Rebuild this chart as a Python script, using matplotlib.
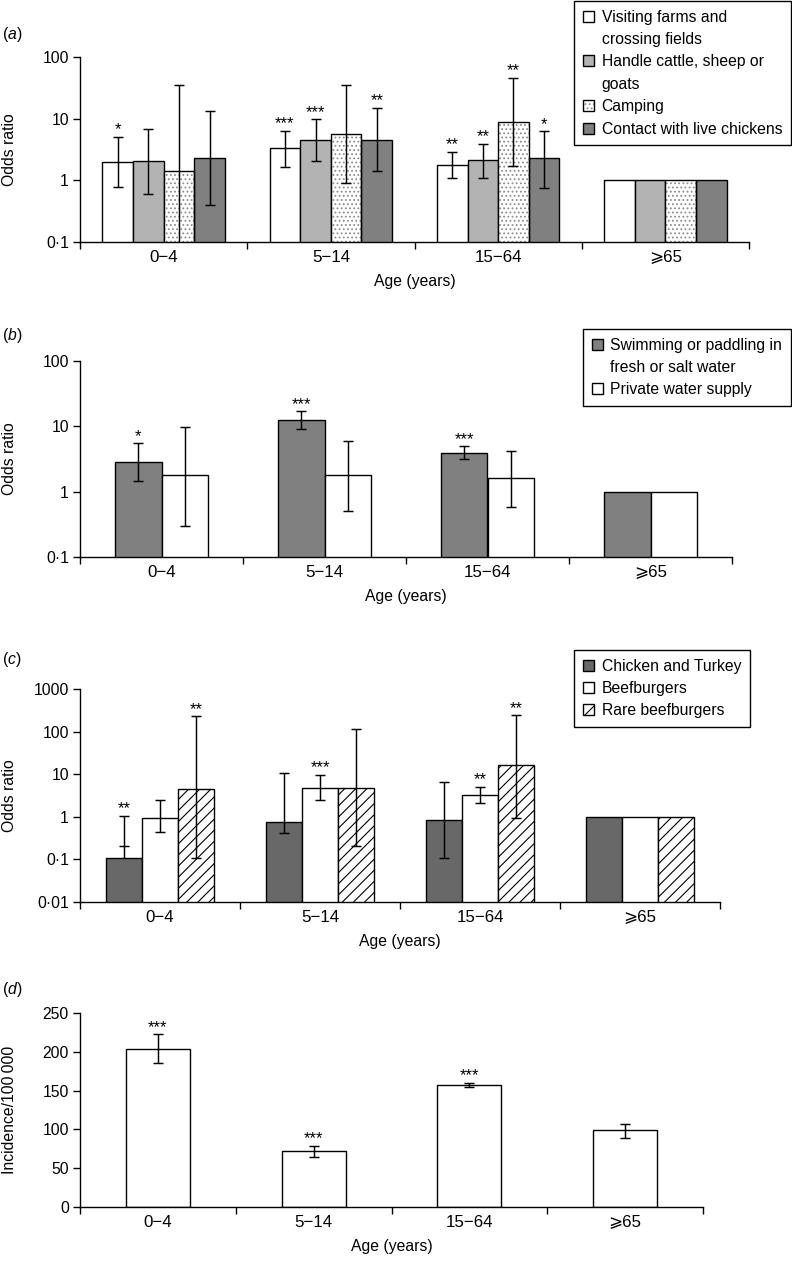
import numpy as np
import matplotlib
matplotlib.use("Agg")
import matplotlib.pyplot as plt
from matplotlib.patches import Patch
from matplotlib.ticker import NullLocator, FixedLocator

plt.rcParams['font.family'] = ['Liberation Sans', 'DejaVu Sans']
plt.rcParams['mathtext.fontset'] = 'custom'
plt.rcParams['mathtext.rm'] = 'Liberation Sans'
plt.rcParams['mathtext.it'] = 'Liberation Sans:italic'
plt.rcParams['hatch.linewidth'] = 0.8

FS = 11.3
XFS = 12.2
nan = np.nan

# ---------------- data ----------------
ages = ['0\u22124', '5\u221214', '15\u221264', '\u2a7e65']

# panel (a)
a_names = ['Visiting farms and\ncrossing fields', 'Handle cattle, sheep or\ngoats',
           'Camping', 'Contact with live chickens']
a_visit = [1.99, 3.39, 1.77, 1.0]
a_visit_lo = [0.78, 1.63, 1.10, nan]
a_visit_hi = [5.1, 6.4, 2.92, nan]
a_handle = [2.09, 4.46, 2.11, 1.0]
a_handle_lo = [0.61, 2.09, 1.10, nan]
a_handle_hi = [6.7, 9.9, 3.94, nan]
a_camp = [1.44, 5.66, 8.75, 1.0]
a_camp_lo = [0.05, 0.91, 1.71, nan]
a_camp_hi = [34.9, 34.9, 45.9, nan]
a_chick = [2.31, 4.58, 2.31, 1.0]
a_chick_lo = [0.40, 1.44, 0.76, nan]
a_chick_hi = [13.4, 15.1, 6.3, nan]
a_stars = [['*', '***', '**', ''], ['', '***', '**', ''], ['', '', '**', ''], ['', '**', '*', '']]

# panel (b)
b_names = ['Swimming or paddling in\nfresh or salt water', 'Private water supply']
b_swim = [2.81, 12.4, 3.85, 1.0]
b_swim_lo = [1.44, 9.2, 3.19, nan]
b_swim_hi = [5.5, 17.1, 4.93, nan]
b_priv = [1.82, 1.82, 1.6, 1.0]
b_priv_lo = [0.30, 0.51, 0.58, nan]
b_priv_hi = [9.8, 5.9, 4.19, nan]
b_stars = [['*', '***', '***', ''], ['', '', '', '']]

# panel (c)
c_names = ['Chicken and Turkey', 'Beefburgers', 'Rare beefburgers']
c_chick = [0.109, 0.74, 0.82, 1.0]
c_chick_lo = [0.21, 0.42, 0.107, nan]
c_chick_hi = [1.06, 10.9, 6.7, nan]
c_beef = [0.92, 4.84, 3.25, 1.0]
c_beef_lo = [0.43, 2.48, 2.1, nan]
c_beef_hi = [2.48, 9.8, 5.1, nan]
c_rare = [4.42, 4.75, 16.2, 1.0]
c_rare_lo = [0.105, 0.21, 0.92, nan]
c_rare_hi = [228, 114, 240, nan]
c_stars = [['**', '', '', ''], ['', '***', '**', ''], ['**', '', '**', '']]

# panel (d)
d_inc = [204, 72, 157, 99.7]
d_inc_lo = [186, 64, 154, 89]
d_inc_hi = [223, 79, 160, 107]
d_stars = ['***', '***', '***', '']

# ---------------- figure ----------------
W, H = 792, 1264
fig = plt.figure(figsize=(W / 100, H / 100), dpi=100)


def add_axes(left, right, top, bottom):
    return fig.add_axes([left / W, 1 - bottom / H, (right - left) / W, (bottom - top) / H])


def style(ax, ylabel):
    for s in ['top', 'right']:
        ax.spines[s].set_visible(False)
    for s in ['left', 'bottom']:
        ax.spines[s].set_linewidth(1.0)
    ax.set_xlim(-0.5, len(ages) - 0.5)
    ax.xaxis.set_major_locator(FixedLocator(np.arange(len(ages) + 1) - 0.5))
    ax.set_xticklabels([''] * (len(ages) + 1))
    ax.set_xticks(np.arange(len(ages)), minor=True)
    ax.set_xticklabels(ages, minor=True, fontsize=XFS)
    ax.tick_params(axis='x', which='major', length=5, width=1.0, direction='out')
    ax.tick_params(axis='x', which='minor', length=0, pad=5.5)
    ax.tick_params(axis='y', which='major', length=5, width=1.0, labelsize=FS, pad=3)
    ax.set_xlabel('Age (years)', fontsize=FS, labelpad=7)
    ax.set_ylabel(ylabel, fontsize=FS)
    pos = ax.get_position()
    ax.yaxis.set_label_coords((17 / W - pos.x0) / pos.width, 0.5)


def bars(ax, x, vals, w, color, hatch=None, hatch_color='k'):
    if hatch is None:
        ax.bar(x, vals, w, color=color, edgecolor='k', linewidth=1.0, zorder=2)
    else:
        ax.bar(x, vals, w, color=color, edgecolor=hatch_color, linewidth=0, hatch=hatch, zorder=2)
        ax.bar(x, vals, w, fill=False, edgecolor='k', linewidth=1.0, zorder=2.1)


def errs(ax, x, vals, lo, hi, stars):
    for xi, v, l, h, s in zip(x, vals, lo, hi, stars):
        if np.isnan(h):
            continue
        ax.vlines(xi, min(l, v), h, color='k', lw=1.05, zorder=3)
        ax.plot([xi, xi], [l, h], ls='none', marker='_', ms=7, mew=1.05, color='k', zorder=3)
        if s:
            ax.annotate(s, (xi, h), xytext=(0, -0.5), textcoords='offset points',
                        ha='center', va='bottom', fontsize=12)


def log_axis(ax, lo, hi, ticks, labels):
    ax.set_yscale('log')
    ax.set_ylim(lo, hi)
    ax.yaxis.set_major_locator(FixedLocator(ticks))
    ax.yaxis.set_minor_locator(NullLocator())
    ax.set_yticklabels(labels)


def legend(handles, labels, x, y):
    leg = fig.legend(handles, labels, loc='upper right', bbox_to_anchor=(x / W, 1 - y / H),
                     bbox_transform=fig.transFigure, borderaxespad=0, fontsize=FS,
                     handlelength=0.7, handleheight=0.7, handletextpad=0.5,
                     labelspacing=0.47, borderpad=0.55, fancybox=False, framealpha=1,
                     edgecolor='k')
    leg.get_frame().set_linewidth(1.0)
    return leg


def expand(names, handles):
    hs, ls = [], []
    blank = Patch(facecolor='none', edgecolor='none')
    for n, h in zip(names, handles):
        parts = n.split('\n')
        hs.append(h)
        ls.append(parts[0])
        for p in parts[1:]:
            hs.append(blank)
            ls.append(p)
    return hs, ls


x = np.arange(len(ages))
LIGHT, MID, DARK = '#b3b3b3', '#808080', '#686868'
DOTC = '#8c8c8c'

# ---- (a)
ax = add_axes(80, 749, 57, 242)
log_axis(ax, 0.1, 100, [0.1, 1, 10, 100], ['0\u00b71', '1', '10', '100'])
w = 0.183
series = [(a_visit, a_visit_lo, a_visit_hi, 'white', None),
          (a_handle, a_handle_lo, a_handle_hi, LIGHT, None),
          (a_camp, a_camp_lo, a_camp_hi, 'white', '....'),
          (a_chick, a_chick_lo, a_chick_hi, MID, None)]
for i, (v, lo, hi, c, ht) in enumerate(series):
    bars(ax, x + (i - 1.5) * w, v, w, c, ht, DOTC)
for i, (v, lo, hi, c, ht) in enumerate(series):
    errs(ax, x + (i - 1.5) * w, v, lo, hi, a_stars[i])
style(ax, 'Odds ratio')
fig.text(2 / W, 1 - 34.5 / H, r'($\it{a}$)', fontsize=FS, va='center', ha='left')
hA = [Patch(facecolor='white', edgecolor='k', lw=1.0),
      Patch(facecolor=LIGHT, edgecolor='k', lw=1.0),
      (Patch(facecolor='white', edgecolor=DOTC, lw=0, hatch='....'),
       Patch(facecolor='none', edgecolor='k', lw=1.0)),
      Patch(facecolor=MID, edgecolor='k', lw=1.0)]
hs, ls = expand(a_names, hA)
legend(hs, ls, 791, 1)

# ---- (b)
ax = add_axes(80, 732, 361, 557)
log_axis(ax, 0.1, 100, [0.1, 1, 10, 100], ['0\u00b71', '1', '10', '100'])
w = 0.285
series = [(b_swim, b_swim_lo, b_swim_hi, MID), (b_priv, b_priv_lo, b_priv_hi, 'white')]
for i, (v, lo, hi, c) in enumerate(series):
    bars(ax, x + (i - 0.5) * w, v, w, c)
for i, (v, lo, hi, c) in enumerate(series):
    errs(ax, x + (i - 0.5) * w, v, lo, hi, b_stars[i])
style(ax, 'Odds ratio')
fig.text(2 / W, 1 - 335.5 / H, r'($\it{b}$)', fontsize=FS, va='center', ha='left')
hB = [Patch(facecolor=MID, edgecolor='k', lw=1.0), Patch(facecolor='white', edgecolor='k', lw=1.0)]
hs, ls = expand(b_names, hB)
legend(hs, ls, 791, 329)

# ---- (c)
ax = add_axes(80, 720, 689, 902)
log_axis(ax, 0.01, 1000, [0.01, 0.1, 1, 10, 100, 1000],
         ['0\u00b701', '0\u00b71', '1', '10', '100', '1000'])
w = 0.225
series = [(c_chick, c_chick_lo, c_chick_hi, DARK, None),
          (c_beef, c_beef_lo, c_beef_hi, 'white', None),
          (c_rare, c_rare_lo, c_rare_hi, 'white', '///')]
for i, (v, lo, hi, c, ht) in enumerate(series):
    bars(ax, x + (i - 1) * w, v, w, c, ht, 'k')
for i, (v, lo, hi, c, ht) in enumerate(series):
    errs(ax, x + (i - 1) * w, v, lo, hi, c_stars[i])
style(ax, 'Odds ratio')
fig.text(2 / W, 1 - 659.5 / H, r'($\it{c}$)', fontsize=FS, va='center', ha='left')
hC = [Patch(facecolor=DARK, edgecolor='k', lw=1.0), Patch(facecolor='white', edgecolor='k', lw=1.0),
      Patch(facecolor='white', edgecolor='k', lw=1.0, hatch='//')]
hs, ls = expand(c_names, hC)
legend(hs, ls, 750, 650)

# ---- (d)
ax = add_axes(80, 703, 1013, 1207)
ax.set_ylim(0, 250)
ax.set_yticks([0, 50, 100, 150, 200, 250])
w = 0.41
bars(ax, x, d_inc, w, 'white')
errs(ax, x, d_inc, d_inc_lo, d_inc_hi, d_stars)
style(ax, 'Incidence/100\u2009000')
fig.text(2 / W, 1 - 989.5 / H, r'($\it{d}$)', fontsize=FS, va='center', ha='left')

fig.savefig('out.png', dpi=100)
